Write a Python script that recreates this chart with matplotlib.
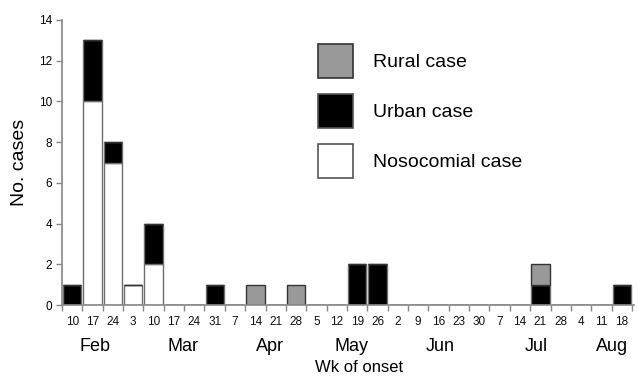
import matplotlib
matplotlib.use("Agg")
import matplotlib.pyplot as plt
from matplotlib.patches import Patch
import numpy as np

plt.rcParams['font.family'] = ['Liberation Sans', 'DejaVu Sans']

# Week-of-onset labels (day of month, weekly)
week_days = ["10", "17", "24", "3", "10", "17", "24", "31", "7", "14", "21", "28",
             "5", "12", "19", "26", "2", "9", "16", "23", "30", "7", "14", "21",
             "28", "4", "11", "18"]
months = ["Feb", "Mar", "Apr", "May", "Jun", "Jul", "Aug"]
month_pos = [1.6, 5.95, 10.2, 14.2, 18.6, 23.3, 27.0]

# Case counts per week
nosocomial = [0, 10, 7, 1, 2, 0, 0, 0, 0, 0, 0, 0, 0, 0, 0, 0, 0, 0, 0, 0, 0, 0, 0, 0, 0, 0, 0, 0]
urban      = [1, 3, 1, 0, 2, 0, 0, 1, 0, 0, 0, 0, 0, 0, 2, 2, 0, 0, 0, 0, 0, 0, 0, 1, 0, 0, 0, 1]
rural      = [0, 0, 0, 0, 0, 0, 0, 0, 0, 1, 0, 1, 0, 0, 0, 0, 0, 0, 0, 0, 0, 0, 0, 1, 0, 0, 0, 0]

n = len(week_days)
x = np.arange(n) + 0.5
noso = np.array(nosocomial)
urb = np.array(urban)
rur = np.array(rural)

fig = plt.figure(figsize=(6.38, 3.8), dpi=100)
ax = fig.add_axes([62 / 638, 1 - 305 / 380, 572 / 638, 285 / 380])

edge = "#6e6e6e"
w = 0.9
ax.bar(x, noso, width=w, color="white", edgecolor=edge, linewidth=1.0)
ax.bar(x, urb, width=w, bottom=noso, color="black", edgecolor=edge, linewidth=1.0)
ax.bar(x, rur, width=w, bottom=noso + urb, color="#999999", edgecolor="#333333", linewidth=1.0)

ax.set_xlim(0, n + 0.1)
ax.set_ylim(0, 14)
ax.set_yticks(range(0, 15, 2))
ax.set_xticks(np.arange(n + 1))
ax.set_xticklabels([])
ax.set_xticks(x, minor=True)
ax.set_xticklabels(week_days, minor=True, fontsize=8.5, color="#111111")
ax.tick_params(axis="x", which="minor", length=0, pad=8)
ax.tick_params(axis="x", which="major", length=4, color="#888888", width=1)
ax.tick_params(axis="y", length=4, color="#888888", width=1, labelsize=8.5, pad=3)

for s in ["top", "right"]:
    ax.spines[s].set_visible(False)
for s in ["left", "bottom"]:
    ax.spines[s].set_color("#888888")
    ax.spines[s].set_linewidth(1.2)

for m, p in zip(months, month_pos):
    ax.text(p, -2.05, m, ha="center", va="center", fontsize=13,
            transform=ax.transData, clip_on=False)

ax.set_ylabel("No. cases", fontsize=14, labelpad=8)
fig.text(359 / 638, 1 - 368 / 380, "Wk of onset", ha="center", va="center", fontsize=12)

handles = [Patch(facecolor="#999999", edgecolor="#333333", linewidth=1.2),
           Patch(facecolor="black", edgecolor="#555555", linewidth=1.2),
           Patch(facecolor="white", edgecolor="#555555", linewidth=1.2)]
labels = ["Rural case", "Urban case", "Nosocomial case"]
leg = ax.legend(handles, labels, loc="upper left", bbox_to_anchor=(248 / 572, 1 - 16 / 285),
                frameon=False, fontsize=14, handlelength=1.8, handleheight=2.32,
                labelspacing=0.82, handletextpad=1.05, borderaxespad=0)

fig.savefig("out.png", dpi=100)
